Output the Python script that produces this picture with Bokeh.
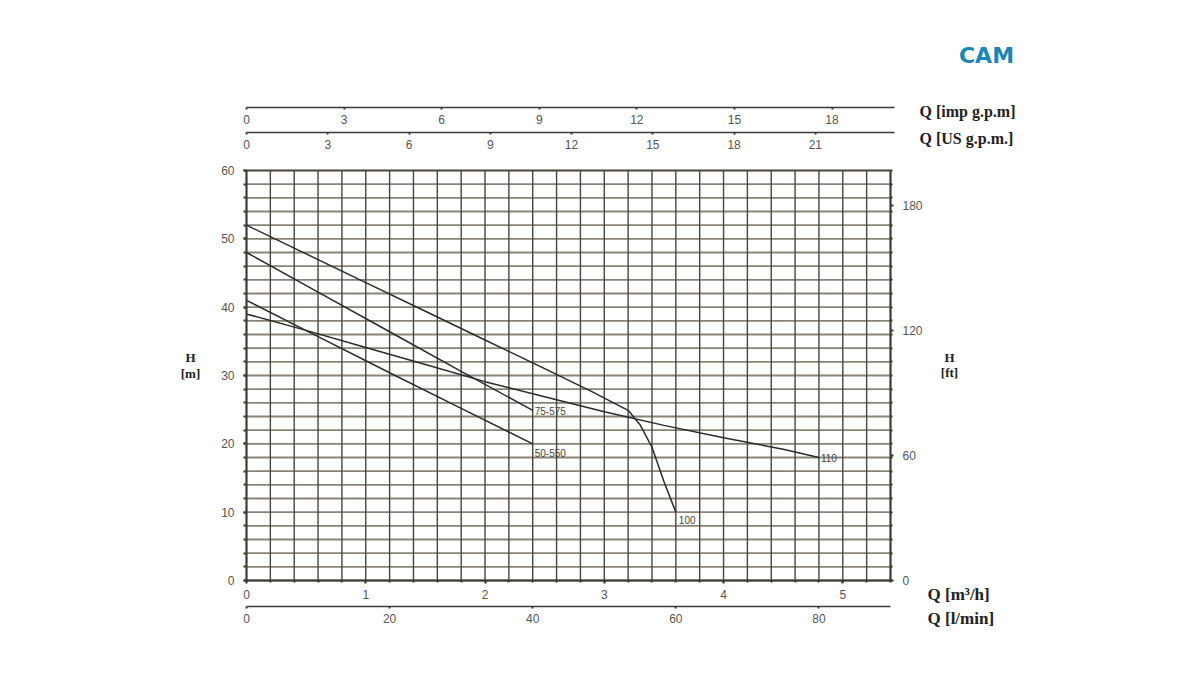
import numpy as np
from bokeh.plotting import figure
from bokeh.models import Range1d, LinearAxis, FixedTicker, Label, ColumnDataSource
from bokeh.core.properties import value
from bokeh.embed import file_html
from bokeh.resources import INLINE

# ---- data ----
q_110 = [0, 0.5, 1.0, 1.5, 2.0, 2.5, 3.0, 3.5, 4.0, 4.5, 4.8]
h_110 = [39, 36.6, 34.1, 31.6, 29.1, 26.9, 24.7, 22.7, 20.9, 19.2, 18.0]

q_100 = [0, 0.5, 1.0, 1.5, 2.0, 2.5, 2.9, 3.2, 3.3, 3.4, 3.5, 3.6]
h_100 = [52, 47.8, 43.6, 39.4, 35.2, 31.0, 27.6, 24.9, 22.8, 19.5, 14.5, 10.0]

q_75 = [0, 0.6, 1.2, 1.8, 2.4]
h_75 = [48, 42.2, 36.4, 30.6, 24.9]

q_50 = [0, 0.6, 1.2, 1.8, 2.4]
h_50 = [41, 35.7, 30.4, 25.2, 20.0]

curve_names = ["110", "100", "75-575", "50-550"]

h_ticks = [0, 10, 20, 30, 40, 50, 60]
ft_ticks = [0, 60, 120, 180]
m3h_ticks = [0, 1, 2, 3, 4, 5]
lmin_ticks = [0, 20, 40, 60, 80]
imp_ticks = [0, 3, 6, 9, 12, 15, 18]
us_ticks = [0, 3, 6, 9, 12, 15, 18, 21]

Q_MAX = 5.4
H_MAX = 60
M3H_PER_IMP = 0.272765
M3H_PER_US = 0.227125
LMIN_PER_M3H = 1000 / 60
FT_PER_M = 3.28084

# ---- layout: the frame fills the whole canvas ----
W, HC = 1184, 659
FX0, FX1, FY_TOP, FY0 = 246, 890, 170, 580      # pixel anchors of the chart box
PXQ = (FX1 - FX0) / Q_MAX
PXH = (FY0 - FY_TOP) / H_MAX


def qx(px):
    return (px - FX0) / PXQ


def hy(py):
    return (FY0 - py) / PXH


x0, x1 = qx(0), qx(W)
y0, y1 = hy(HC), hy(0)

TICK_FONT = "Liberation Sans"
TITLE_FONT = "Liberation Serif"
TICK_COLOR = "#555555"
AXIS_COLOR = "#3f3a33"

p = figure(width=W, height=HC, title=None,
           x_range=Range1d(x0, x1), y_range=Range1d(y0, y1),
           output_backend="svg", toolbar_location=None,
           x_axis_location=None, y_axis_location=None,
           min_border=0, min_border_left=0, min_border_right=0,
           min_border_top=0, min_border_bottom=0)
p.outline_line_color = None
p.xgrid.visible = False
p.ygrid.visible = False
p.background_fill_color = "white"
p.border_fill_color = "white"

p.extra_x_ranges = {
    "lmin": Range1d(x0 * LMIN_PER_M3H, x1 * LMIN_PER_M3H),
    "imp": Range1d(x0 / M3H_PER_IMP, x1 / M3H_PER_IMP),
    "us": Range1d(x0 / M3H_PER_US, x1 / M3H_PER_US),
}
p.extra_y_ranges = {"ft": Range1d(y0 * FT_PER_M, y1 * FT_PER_M)}

# ---- grid ----
vq = [round(v, 2) for v in np.arange(0, Q_MAX + 1e-9, 0.2)]
hh = list(range(0, H_MAX + 1, 2))
p.segment(x0=[0] * len(hh), y0=hh, x1=[Q_MAX] * len(hh), y1=hh,
          line_color="#8a8376", line_width=1.8)
p.segment(x0=vq, y0=[0] * len(vq), x1=vq, y1=[H_MAX] * len(vq),
          line_color="#4a453e", line_width=1.4)
p.segment(x0=[0], y0=[H_MAX], x1=[Q_MAX], y1=[H_MAX],
          line_color="#4a453e", line_width=1.6)

# ---- curves ----
curve_color = "#2a2a2a"
for q, h in [(q_110, h_110), (q_100, h_100), (q_75, h_75), (q_50, h_50)]:
    p.line(q, h, line_color=curve_color, line_width=1.5)

lab_src = ColumnDataSource(dict(
    x=[q_110[-1], q_100[-1], q_75[-1], q_50[-1]],
    y=[h_110[-1], h_100[-1], h_75[-1], h_50[-1]],
    text=curve_names,
    xo=[2, 3, 2, 2],
    yo=[0, 8, 1, 9],
))
p.text(x="x", y="y", text="text", x_offset="xo", y_offset="yo", source=lab_src,
       text_font=value(TICK_FONT), text_font_size="10px", text_color="#444444",
       text_align="left", text_baseline="middle")


def style_axis(ax, tick_out=3, standoff=5, minor_out=0, width=2):
    ax.axis_line_color = AXIS_COLOR
    ax.axis_line_width = width
    ax.major_tick_line_color = AXIS_COLOR
    ax.major_tick_line_width = 2
    ax.major_tick_in = 0
    ax.major_tick_out = tick_out
    if minor_out:
        ax.minor_tick_line_color = AXIS_COLOR
        ax.minor_tick_line_width = 2
        ax.minor_tick_in = 0
        ax.minor_tick_out = minor_out
    else:
        ax.minor_tick_line_color = None
    ax.major_label_text_font = TICK_FONT
    ax.major_label_text_font_size = "12px"
    ax.major_label_text_color = TICK_COLOR
    ax.major_label_standoff = standoff


ax_left = LinearAxis(ticker=FixedTicker(ticks=h_ticks, minor_ticks=hh),
                     bounds=(0, H_MAX), fixed_location=0)
style_axis(ax_left, tick_out=3, standoff=9, minor_out=3)
p.add_layout(ax_left, "left")

ax_right = LinearAxis(y_range_name="ft",
                      ticker=FixedTicker(ticks=ft_ticks, minor_ticks=[v * FT_PER_M for v in hh]),
                      bounds=(0, H_MAX * FT_PER_M), fixed_location=Q_MAX)
style_axis(ax_right, tick_out=3, standoff=9, minor_out=2)
p.add_layout(ax_right, "right")

ax_m3h = LinearAxis(ticker=FixedTicker(ticks=m3h_ticks, minor_ticks=vq),
                    bounds=(0, Q_MAX), fixed_location=0)
style_axis(ax_m3h, tick_out=3, standoff=6, minor_out=2)
p.add_layout(ax_m3h, "below")

ax_lmin = LinearAxis(x_range_name="lmin", ticker=FixedTicker(ticks=lmin_ticks),
                     bounds=(0, Q_MAX * LMIN_PER_M3H), fixed_location=hy(606))
style_axis(ax_lmin, tick_out=2, standoff=5, width=1.5)
p.add_layout(ax_lmin, "below")

ax_imp = LinearAxis(x_range_name="imp", ticker=FixedTicker(ticks=imp_ticks),
                    bounds=(0, 5.43 / M3H_PER_IMP), fixed_location=hy(107))
style_axis(ax_imp, tick_out=2, standoff=5, width=1.5)
p.add_layout(ax_imp, "below")

ax_us = LinearAxis(x_range_name="us", ticker=FixedTicker(ticks=us_ticks),
                   bounds=(0, 5.43 / M3H_PER_US), fixed_location=hy(132))
style_axis(ax_us, tick_out=2, standoff=5, width=1.5)
p.add_layout(ax_us, "below")


# ---- titles ----
def title(px, py, text, align="left", size="13px"):
    p.add_layout(Label(x=qx(px), y=hy(py), text=text, text_font=TITLE_FONT,
                       text_font_style="bold", text_font_size=size,
                       text_color="#222222", text_align=align,
                       text_baseline="middle"))


title(190, 357, "H", align="center")
title(190, 373, "[m]", align="center")
title(949, 357, "H", align="center")
title(949, 372, "[ft]", align="center")
title(919, 111, "Q [imp g.p.m]", size="16px")
title(919, 138, "Q [US g.p.m.]", size="16px")
title(927, 594, "Q [m³/h]", size="17px")
title(927, 618, "Q [l/min]", size="17px")

p.add_layout(Label(x=qx(986), y=hy(55), text="CAM", text_font="DejaVu Sans",
                   text_font_style="bold", text_font_size="22px",
                   text_color="#1b86b6", text_align="center",
                   text_baseline="middle"))

open("out.html", "w").write(file_html(p, INLINE))
